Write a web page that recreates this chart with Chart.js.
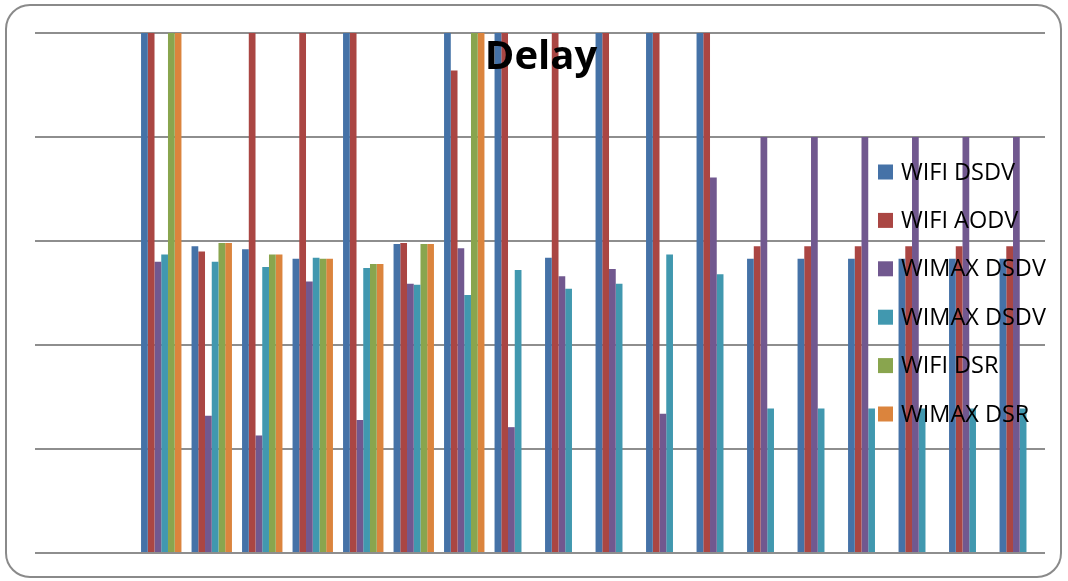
<!DOCTYPE html>
<html>
<head>
<meta charset="utf-8">
<script src="https://cdn.jsdelivr.net/npm/chart.js@4"></script>
<style>
	html, body { margin: 0; padding: 0; background: #fff; }
	#wrap { width: 1068px; height: 581px; }
</style>
</head>
<body>
<div id="wrap"><canvas id="myChart" width="1068" height="581"></canvas></div>
<script>
// 20 categories, the first two are empty; values above 5 are cut off at the top
const categories = ['1','2','3','4','5','6','7','8','9','10','11','12','13','14','15','16','17','18','19','20'];

const wifiDsdv   = [null, null, 6, 2.95, 2.92, 2.83, 6, 2.97, 6, 6, 2.84, 6, 6, 6, 2.83, 2.83, 2.83, 2.83, 2.83, 2.83];
const wifiAodv   = [null, null, 6, 2.90, 6, 6, 6, 2.98, 4.64, 6, 6, 6, 6, 6, 2.95, 2.95, 2.95, 2.95, 2.95, 2.95];
const wimaxDsdv  = [null, null, 2.80, 1.32, 1.13, 2.61, 1.28, 2.59, 2.93, 1.21, 2.66, 2.73, 1.34, 3.61, 4.0, 4.0, 4.0, 4.0, 4.0, 4.0];
const wimaxDsdv2 = [null, null, 2.87, 2.80, 2.75, 2.84, 2.74, 2.58, 2.48, 2.72, 2.54, 2.59, 2.87, 2.68, 1.39, 1.39, 1.39, 1.39, 1.39, 1.39];
const wifiDsr    = [null, null, 6, 2.98, 2.87, 2.83, 2.78, 2.97, 6, 0, 0, 0, 0, 0, 0, 0, 0, 0, 0, 0];
const wimaxDsr   = [null, null, 6, 2.98, 2.87, 2.83, 2.78, 2.97, 6, 0, 0, 0, 0, 0, 0, 0, 0, 0, 0, 0];

const seriesNames = ['WIFI DSDV', 'WIFI AODV', 'WIMAX DSDV', 'WIMAX DSDV', 'WIFI DSR', 'WIMAX DSR'];
const colors = ['#4572A7', '#AA4643', '#71588F', '#4198AF', '#89A54E', '#DB843D'];
const titleText = 'Delay';

// frame, title and legend are drawn on top of the bars like in the original
const overlay = {
	id: 'overlay',
	beforeDraw(chart) {
		const c = chart.ctx;
		c.save();
		c.fillStyle = '#fff';
		c.fillRect(0, 0, chart.width, chart.height);
		c.strokeStyle = '#8a8a8a';
		c.lineWidth = 2;
		c.beginPath();
		c.roundRect(6, 5, 1055, 572, 24);
		c.stroke();
		c.restore();
	},
	afterDatasetsDraw(chart) {
		const c = chart.ctx;
		c.save();
		c.fillStyle = '#000';
		c.font = 'bold 40px "Open Sans"';
		c.textAlign = 'center';
		c.textBaseline = 'alphabetic';
		c.fillText(titleText, 541, 69);

		c.font = '23.5px "Open Sans"';
		c.textAlign = 'left';
		c.textBaseline = 'middle';
		chart.data.datasets.forEach((ds, i) => {
			const y = 172 + i * 48.4;
			c.fillStyle = ds.backgroundColor;
			c.fillRect(878, y - 7.5, 15, 15);
			c.fillStyle = '#000';
			c.fillText(ds.label, 901, y + 1);
		});
		c.restore();
	}
};

window.onload = () => {
	const ctx = document.getElementById('myChart').getContext('2d');
	const allSeries = [wifiDsdv, wifiAodv, wimaxDsdv, wimaxDsdv2, wifiDsr, wimaxDsr];
	const datasets = allSeries.map((vals, i) => ({
		label: seriesNames[i],
		data: vals,
		backgroundColor: colors[i],
		borderWidth: 0,
		barPercentage: 1.0,
		categoryPercentage: 0.8
	}));

	new Chart(ctx, {
		type: 'bar',
		data: { labels: categories, datasets: datasets },
		options: {
			responsive: false,
			animation: false,
			devicePixelRatio: 1,
			layout: { padding: { left: 35, right: 23, top: 33, bottom: 28 } },
			plugins: {
				legend: { display: false },
				title: { display: false },
				tooltip: { enabled: false }
			},
			scales: {
				x: {
					ticks: { display: false },
					grid: { display: false, drawTicks: false },
					border: { display: false }
				},
				y: {
					min: 0,
					max: 5,
					ticks: { display: false, stepSize: 1 },
					grid: { color: '#8e8e8e', lineWidth: 2, drawTicks: false },
					border: { display: false }
				}
			}
		},
		plugins: [overlay]
	});
};
</script>
</body>
</html>
